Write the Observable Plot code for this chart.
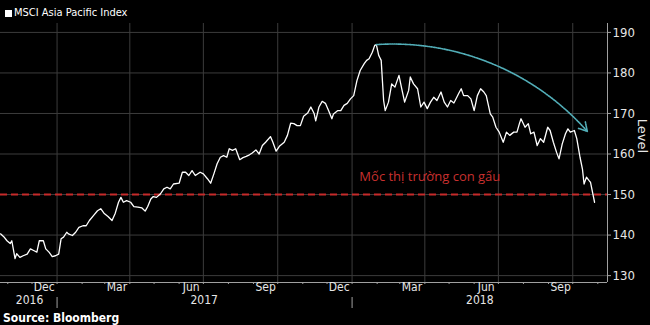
<!DOCTYPE html>
<html><head><meta charset="utf-8">
<script src="https://cdn.jsdelivr.net/npm/d3@7"></script>
<script src="https://cdn.jsdelivr.net/npm/@observablehq/plot@0.6"></script>
<style>
html,body{margin:0;padding:0;background:#000;}
#wrap{position:relative;width:650px;height:325px;background:#000;overflow:hidden;}
#chart{position:absolute;left:0;top:0;}
#legend{position:absolute;left:5px;top:6px;color:#fff;font:11px "Liberation Sans Narrow","DejaVu Sans Condensed",sans-serif;display:flex;align-items:center;line-height:14px;}
#legend .sw{display:inline-block;width:7px;height:7px;background:#fff;margin-right:2px;}
#source{position:absolute;left:3px;top:311px;color:#fff;font:bold 12px "Liberation Sans Narrow","DejaVu Sans Condensed",sans-serif;line-height:14px;}
</style></head><body>
<div id="wrap"><div id="chart"></div><div id="legend"><span class="sw"></span>MSCI Asia Pacific Index</div><div id="source">Source: Bloomberg</div></div>
<script>
const dates = ["2016-10-23","2016-10-27","2016-10-31","2016-11-04","2016-11-06","2016-11-10","2016-11-12","2016-11-16","2016-11-20","2016-11-25","2016-11-29","2016-12-03","2016-12-07","2016-12-10","2016-12-15","2016-12-18","2016-12-22","2016-12-26","2016-12-30",
"2017-01-03","2017-01-06","2017-01-09","2017-01-13","2017-01-15","2017-01-20","2017-01-24","2017-01-28","2017-02-02","2017-02-06","2017-02-10","2017-02-15","2017-02-20","2017-02-24","2017-02-28","2017-03-05","2017-03-10","2017-03-14","2017-03-18","2017-03-21","2017-03-24","2017-03-28","2017-04-02","2017-04-06","2017-04-11","2017-04-16","2017-04-20","2017-04-23","2017-04-27","2017-04-30","2017-05-04","2017-05-09","2017-05-13","2017-05-17","2017-05-21","2017-05-25","2017-06-01","2017-06-05","2017-06-09","2017-06-13","2017-06-17","2017-06-21","2017-06-27","2017-07-01","2017-07-06","2017-07-10","2017-07-14","2017-07-18","2017-07-22","2017-07-26","2017-07-30","2017-08-02","2017-08-06","2017-08-10","2017-08-15","2017-08-19","2017-08-23","2017-08-27","2017-08-30","2017-09-04","2017-09-08","2017-09-12","2017-09-16","2017-09-22","2017-09-25","2017-09-29","2017-10-03","2017-10-09","2017-10-13","2017-10-17","2017-10-21","2017-10-25","2017-10-29","2017-11-02","2017-11-07","2017-11-11","2017-11-15","2017-11-17","2017-11-21","2017-11-25","2017-11-29","2017-12-03","2017-12-07","2017-12-09","2017-12-14","2017-12-18","2017-12-22","2017-12-26","2017-12-30",
"2018-01-03","2018-01-07","2018-01-11","2018-01-16","2018-01-19","2018-01-22","2018-01-26","2018-01-29","2018-01-31","2018-02-03","2018-02-06","2018-02-09","2018-02-11","2018-02-15","2018-02-19","2018-02-23","2018-02-28","2018-03-03","2018-03-07","2018-03-12","2018-03-14","2018-03-18","2018-03-23","2018-03-27","2018-03-31","2018-04-04","2018-04-08","2018-04-12","2018-04-16","2018-04-21","2018-04-25","2018-04-29","2018-05-03","2018-05-07","2018-05-13","2018-05-16","2018-05-19","2018-05-24","2018-05-28","2018-06-01","2018-06-05","2018-06-09","2018-06-13","2018-06-16","2018-06-21","2018-06-24","2018-06-28","2018-07-02","2018-07-07","2018-07-11","2018-07-15","2018-07-20","2018-07-24","2018-07-27","2018-07-29","2018-08-03","2018-08-07","2018-08-10","2018-08-14","2018-08-18","2018-08-22","2018-08-26","2018-08-31","2018-09-03","2018-09-07","2018-09-11","2018-09-14","2018-09-18","2018-09-22","2018-09-25","2018-09-28","2018-10-03","2018-10-06","2018-10-10","2018-10-13","2018-10-15","2018-10-18","2018-10-21","2018-10-23","2018-10-25","2018-10-28"];
const values = [140.3,139.6,138.6,137.9,138.6,134.2,135.4,134.5,134.9,135.3,136.6,136.2,135.8,138.6,138.6,136.6,135.8,134.7,134.9,
135.3,139.1,139.5,140.7,140.3,139.9,140.7,141.9,142.3,142.3,143.6,144.8,146.0,146.5,145.4,144.6,143.6,145.4,148.1,149.3,148.1,148.5,148.1,147.0,146.9,146.7,145.9,147.0,148.9,149.5,149.3,150.2,151.4,151.8,151.4,152.6,152.8,155.5,155.5,154.7,155.9,154.7,155.5,155.1,153.9,152.8,155.1,157.6,159.2,159.6,159.2,161.3,160.9,161.3,158.6,159.1,159.4,159.8,160.2,161.0,160.0,162.1,162.9,164.3,162.9,160.7,161.9,162.9,164.6,167.6,167.5,167.0,167.0,169.3,170.1,171.6,170.0,168.2,171.6,173.0,172.5,170.7,168.7,169.9,170.7,170.7,172.0,172.5,173.6,
174.4,178.1,180.6,182.3,183.1,183.5,185.1,186.8,187.0,184.3,183.1,173.2,170.7,172.8,177.3,176.5,179.4,176.5,172.8,175.7,179.0,177.3,176.1,171.6,172.8,171.2,172.8,174.0,173.2,175.3,172.8,171.6,173.2,172.6,175.0,176.1,174.4,174.4,173.6,170.7,174.4,176.1,175.3,174.4,169.9,169.1,166.6,165.4,162.9,165.4,164.6,165.4,165.4,167.5,168.7,166.6,167.5,165.0,165.4,162.1,163.8,162.9,166.6,165.8,162.9,160.4,158.8,162.5,165.0,166.2,165.4,165.8,163.8,159.2,156.3,152.6,154.3,153.5,153.0,151.0,148.1];

const yTicks = [130, 140, 150, 160, 170, 180, 190];
const monthLabels = ["Dec","Mar","Jun","Sep","Dec","Mar","Jun","Sep"];
const monthLabelDates = ["2016-12-16","2017-03-16","2017-06-16","2017-09-16","2017-12-16","2018-03-16","2018-06-16","2018-09-16"];
const yearLabels = ["2016","2017","2018"];
const yearLabelDates = ["2016-11-28","2017-07-02","2018-06-08"];
const yearStarts = ["2017-01-01","2018-01-01"];
const bearLevel = [150];
const annotationText = ["Mốc thị trường con gấu"];
const annotationAt = ["2018-01-10", 154.4];
const arrowEnd = ["2018-10-19", 165.6];

const parse = d3.utcParse("%Y-%m-%d");
const series = dates.map((d, i) => ({date: parse(d), value: values[i]}));
const xDomain = [parse("2016-10-23"), parse("2018-11-13")];
const yDomain = [128.3, 192.2];
const monthStarts = d3.utcMonths(parse("2016-11-01"), parse("2018-11-02"));
const quarterStarts = d3.utcMonth.every(3).range(parse("2017-01-01"), parse("2018-11-02"));
const peak = series.reduce((a, b) => (b.value > a.value ? b : a));
const narrow = '"Liberation Sans Narrow","DejaVu Sans Condensed",sans-serif';

const chart = Plot.plot({
  width: 650, height: 325,
  marginTop: 23, marginBottom: 43, marginLeft: 0, marginRight: 43,
  style: {background: "#000", color: "#e6e6e6", fontFamily: narrow, fontSize: "12px", overflow: "visible"},
  x: {type: "utc", domain: xDomain},
  y: {domain: yDomain},
  marks: [
    Plot.ruleY(yTicks, {stroke: "#3c3c3c", strokeOpacity: 1, strokeWidth: 1}),
    Plot.ruleX(quarterStarts, {stroke: "#3c3c3c", strokeOpacity: 1, strokeWidth: 1}),
    Plot.ruleY(bearLevel, {stroke: "#c62a2a", strokeWidth: 2, strokeDasharray: "7,4"}),
    Plot.line(series, {x: "date", y: "value", stroke: "#ffffff", strokeWidth: 1.3}),
    Plot.arrow([{x1: peak.date, y1: peak.value, x2: parse(arrowEnd[0]), y2: arrowEnd[1]}], {
      x1: "x1", y1: "y1", x2: "x2", y2: "y2", bend: 26, stroke: "#52aeb8", strokeWidth: 1.6,
      strokeDasharray: "1.2,1", headLength: 9
    }),
    Plot.text(annotationText, {x: [parse(annotationAt[0])], y: [annotationAt[1]], text: d => d, textAnchor: "start",
      fill: "#c8302f", fontSize: 13, fontFamily: '"Open Sans","Noto Sans",sans-serif'}),
    Plot.ruleX([xDomain[1]], {stroke: "#a0a0a0"}),
    Plot.ruleY([yDomain[0]], {stroke: "#a0a0a0"}),
    Plot.axisY(yTicks, {anchor: "right", tickSize: 3, tickPadding: 2, label: null, fontSize: 13, stroke: "#a0a0a0"}),
    Plot.axisX(monthStarts, {anchor: "bottom", tickSize: 2, tickFormat: () => "", label: null, stroke: "#a0a0a0"}),
    Plot.text(monthLabels, {x: monthLabelDates.map(parse), text: d => d, frameAnchor: "bottom", dy: 8, fill: "#e6e6e6", fontSize: 12}),
    Plot.text(yearLabels, {x: yearLabelDates.map(parse), text: d => d, frameAnchor: "bottom", dy: 21, fill: "#e6e6e6", fontSize: 12}),
    Plot.ruleX(yearStarts.map(parse), {stroke: "#a0a0a0", dy: 26, insetTop: 248}),
    Plot.text(["Level"], {frameAnchor: "right", text: d => d, rotate: 90, dx: 35, fill: "#e6e6e6", fontSize: 13, fontFamily: '"DejaVu Sans",sans-serif'})
  ]
});
document.getElementById("chart").appendChild(chart);
</script>
</body></html>
